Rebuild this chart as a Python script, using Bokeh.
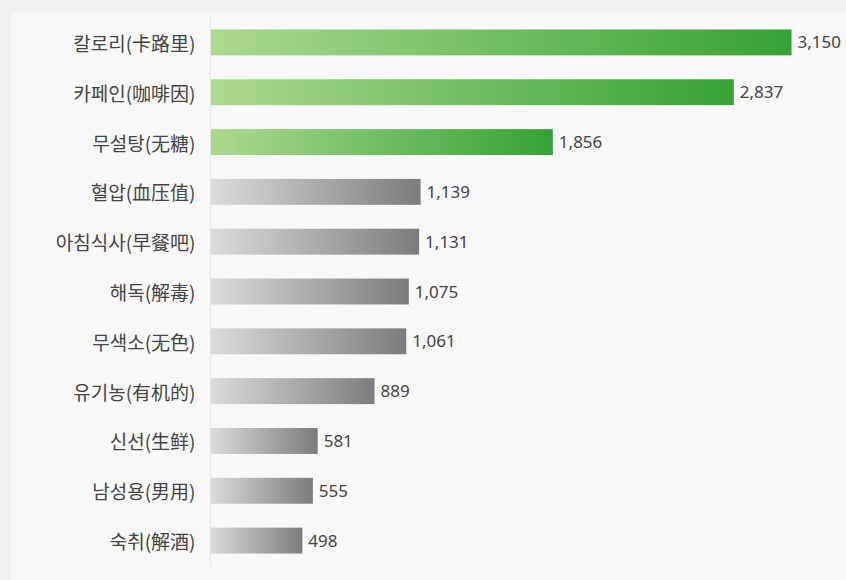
import numpy as np
from bokeh.plotting import figure
from bokeh.models import Range1d, FixedTicker, ColumnDataSource
from bokeh.layouts import column
from bokeh.core.properties import value
from bokeh.embed import file_html
from bokeh.resources import INLINE

categories = ["칼로리(卡路里)", "카페인(咖啡因)", "무설탕(无糖)", "혈압(血压值)", "아침식사(早餐吧)",
              "해독(解毒)", "무색소(无色)", "유기농(有机的)", "신선(生鲜)", "남성용(男用)", "숙취(解酒)"]
values = [3150, 2837, 1856, 1139, 1131, 1075, 1061, 889, 581, 555, 498]
highlight = [True, True, True, False, False, False, False, False, False, False, False]

FONT = "Noto Sans CJK KR"
NUM_FONT = "Noto Sans"
n = len(categories)
ypos = [n - 1 - i for i in range(n)]

p = figure(width=836, height=568, output_backend="svg", toolbar_location=None,
           x_range=Range1d(0, 3448), y_range=Range1d(-0.5, n - 0.5),
           min_border_left=200, min_border_right=0, min_border_top=5, min_border_bottom=15)
p.margin = (12, 0, 0, 10)
p.background_fill_color = "#f8f8f8"
p.border_fill_color = "#f8f8f8"
p.outline_line_color = None
p.xgrid.visible = False
p.ygrid.visible = False
p.xaxis.visible = False

def gradient(c0, c1, steps=256):
    t = np.linspace(0, 1, steps)
    img = np.empty((1, steps), dtype=np.uint32)
    view = img.view(dtype=np.uint8).reshape((1, steps, 4))
    for k in range(3):
        view[0, :, k] = np.round(c0[k] + (c1[k] - c0[k]) * t).astype(np.uint8)
    view[0, :, 3] = 255
    return img

green = gradient((172, 217, 143), (54, 162, 54))
gray = gradient((220, 220, 220), (124, 124, 124))

bar_h = 0.52
imgs = [green if h else gray for h in highlight]
src = ColumnDataSource(dict(
    image=imgs,
    x=[0] * n,
    y=[y - bar_h / 2 for y in ypos],
    dw=values,
    dh=[bar_h] * n,
))
p.image_rgba(image="image", x="x", y="y", dw="dw", dh="dh", source=src)

lab = ColumnDataSource(dict(x=values, y=ypos, t=[f"{v:,}" for v in values]))
p.text(x="x", y="y", text="t", source=lab, x_offset=6, text_baseline="middle",
       text_align="left", text_font=value(NUM_FONT), text_font_size="17px", text_color="#444444")

p.yaxis.ticker = FixedTicker(ticks=ypos)
p.yaxis.major_label_overrides = {y: c for y, c in zip(ypos, categories)}
p.yaxis.major_tick_line_color = None
p.yaxis.minor_tick_line_color = None
p.yaxis.axis_line_color = "#e4e4e4"
p.yaxis.major_label_text_font = FONT
p.yaxis.major_label_text_font_size = "19px"
p.yaxis.major_label_text_color = "#444444"
p.yaxis.major_label_standoff = 9

lay = column(p, width=846, height=580, styles={"background-color": "#f0f0f0"})

with open("out.html", "w") as f:
    f.write(file_html(lay, INLINE))
